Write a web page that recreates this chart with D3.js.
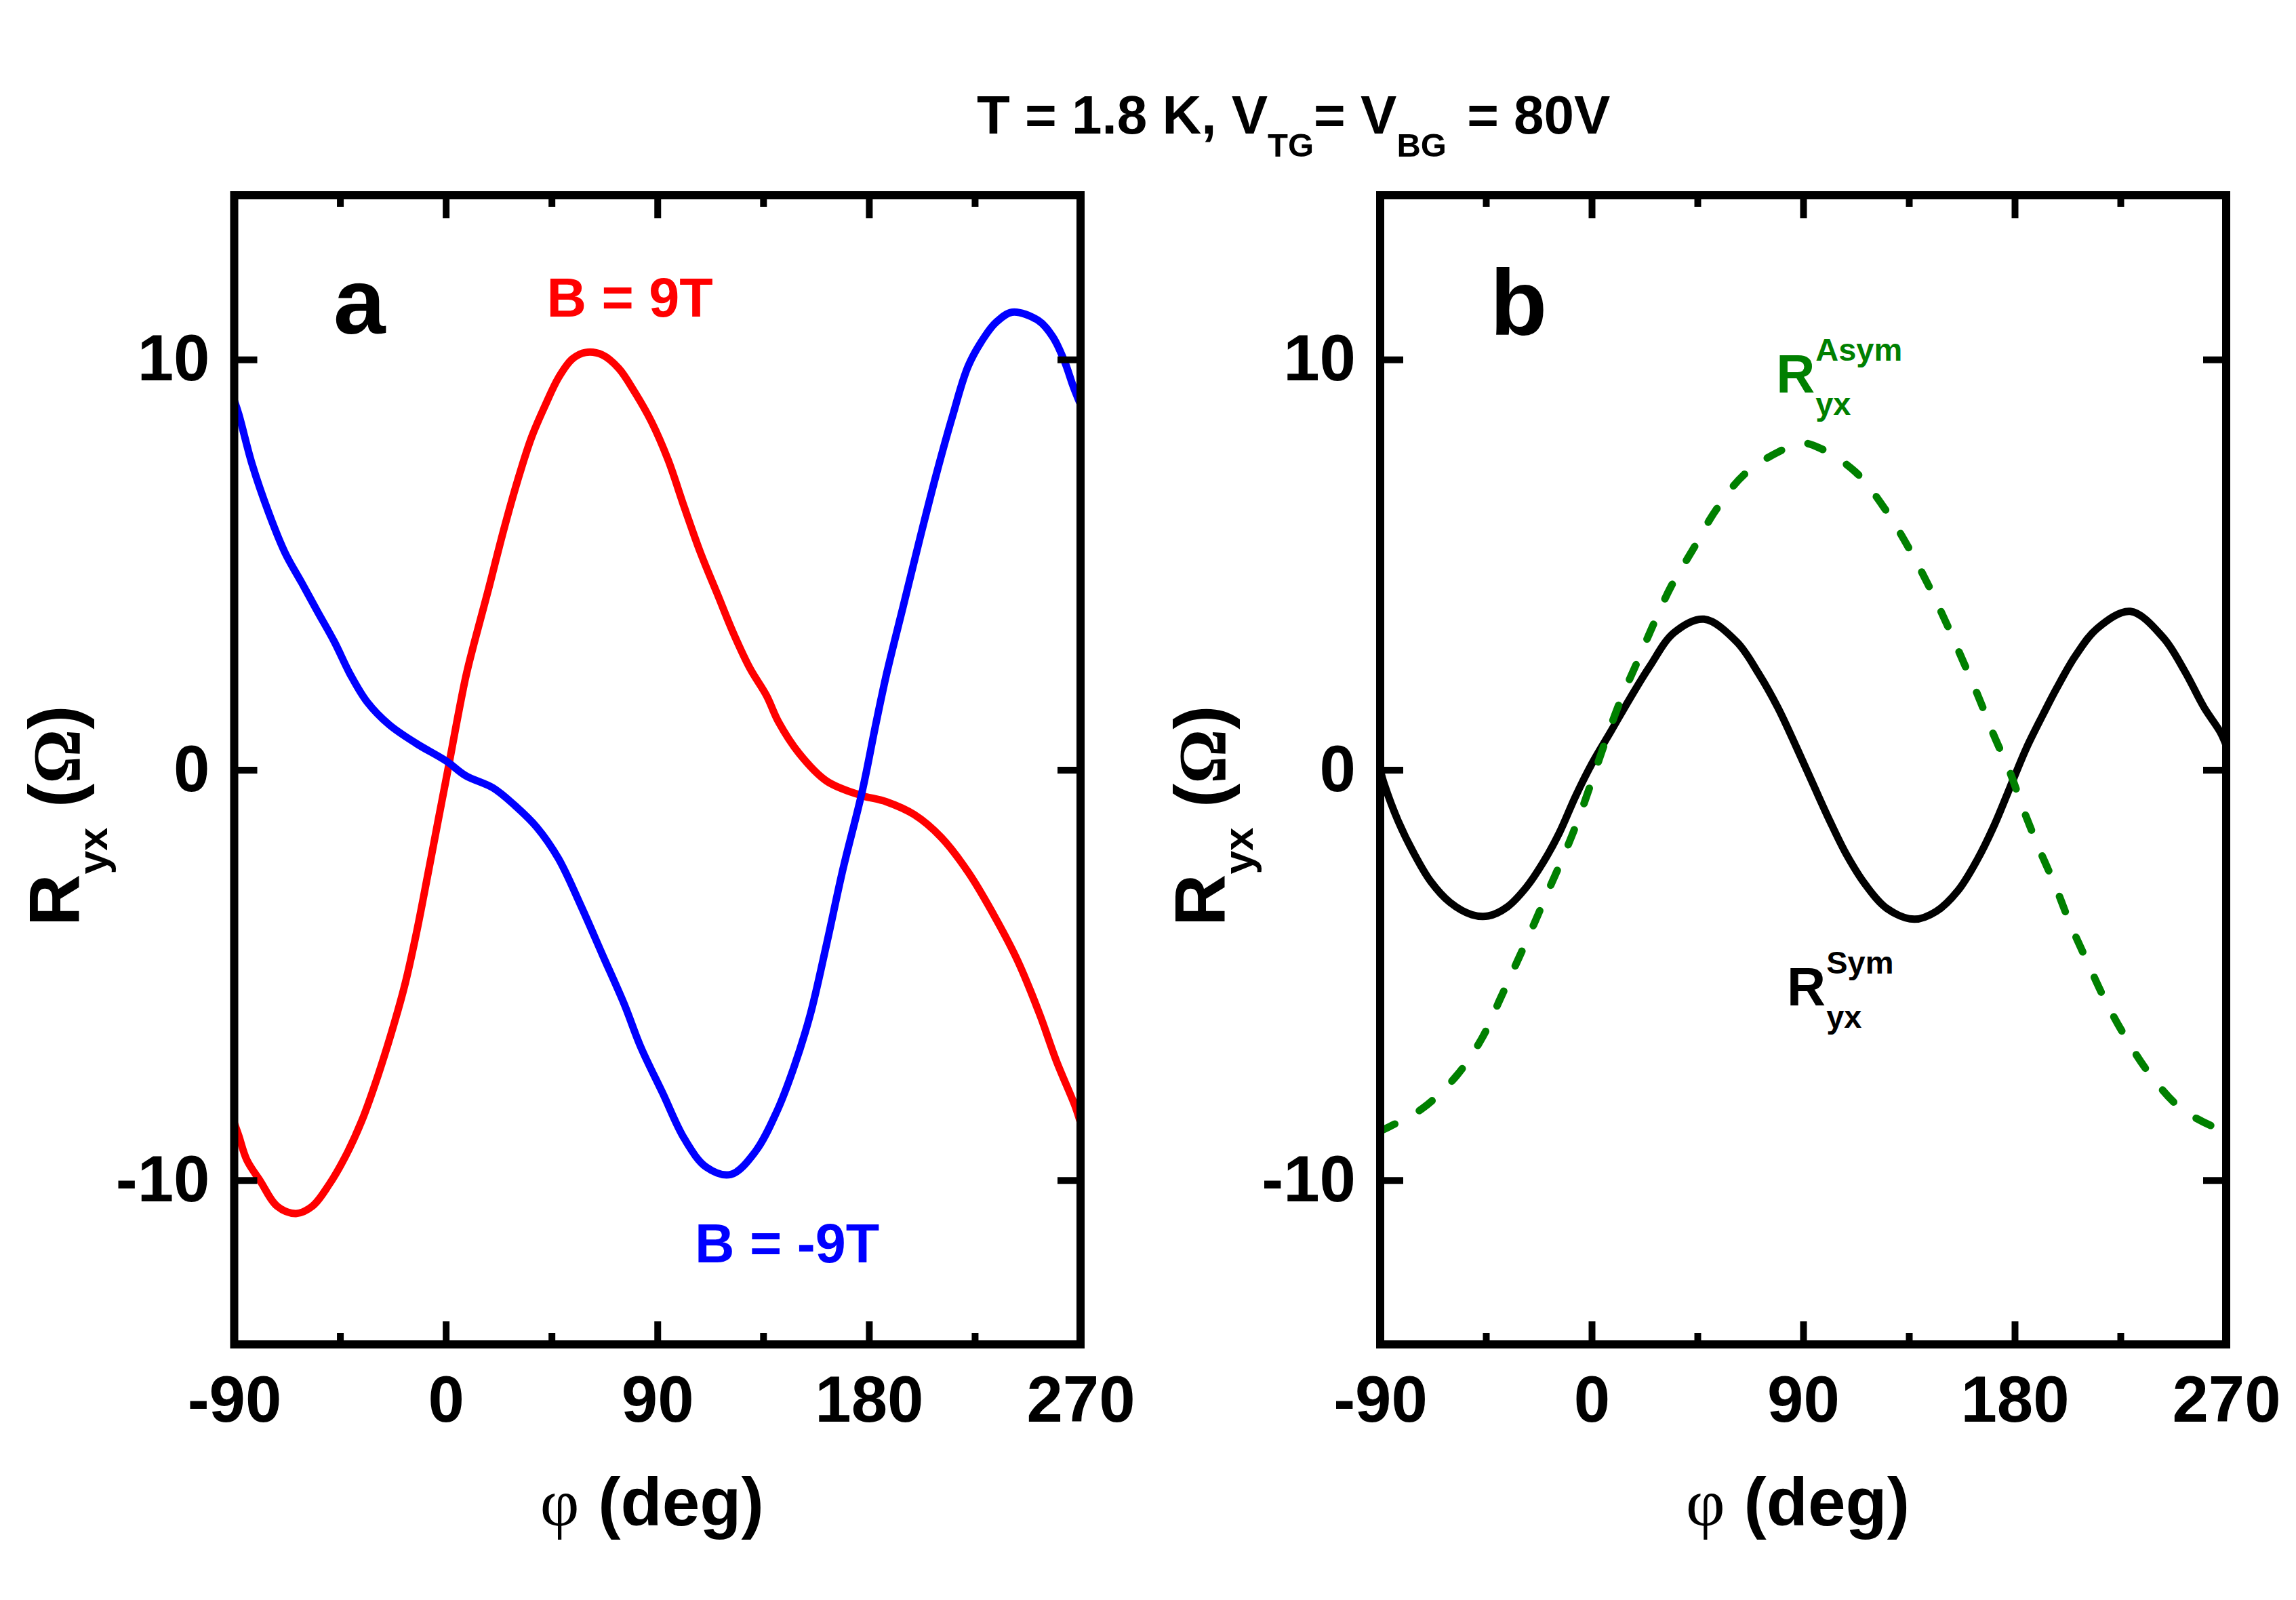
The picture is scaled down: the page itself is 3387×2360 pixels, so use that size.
<!DOCTYPE html>
<html>
<head>
<meta charset="utf-8">
<script src="https://cdn.jsdelivr.net/npm/d3@7/dist/d3.min.js"></script>
<style>
  body { margin: 0; background: #fff; }
</style>
</head>
<body>
<svg id="chart" width="3387" height="2360"></svg>
<script>
// ---- data (phi in deg, R in Ohm) ----
var redPhi = [-90, -88.1, -84.6, -78.8, -71.8, -63.7, -56.7, -49.7, -42.7, -35.8, -28.8, -21.8, -17.2, -12.5, -7.8, -3.2, 0.3, 8.4, 12.2, 17.7, 24.7, 30.5, 36.4, 42.2, 48.0, 53.8, 59.5, 66.6, 73.6, 80.5, 87.5, 94.5, 101.5, 108.4, 115.4, 122.4, 129.4, 136.4, 141.5, 150.3, 161.9, 175.9, 187.5, 199.2, 210.8, 222.4, 234.1, 243.4, 252.7, 259.7, 267.8, 270]
var redR = [-8.6, -8.91, -9.51, -10.03, -10.63, -10.81, -10.63, -10.11, -9.42, -8.56, -7.44, -6.15, -5.19, -3.98, -2.60, -1.22, -0.18, 2.24, 3.12, 4.30, 5.86, 7.04, 8.09, 8.87, 9.56, 10.01, 10.17, 10.11, 9.78, 9.19, 8.48, 7.56, 6.39, 5.28, 4.30, 3.32, 2.47, 1.81, 1.17, 0.40, -0.27, -0.61, -0.78, -1.09, -1.65, -2.51, -3.64, -4.67, -5.97, -7.09, -8.21, -8.6]

var bluePhi = [-90, -88.1, -82.3, -75.3, -68.3, -61.3, -54.4, -47.4, -40.4, -33.4, -24.1, -12.5, 0.3, 8.4, 20.1, 29.4, 38.7, 48.0, 57.3, 66.6, 75.9, 82.9, 92.2, 101.5, 110.8, 121.2, 131.7, 141.0, 148.0, 155.0, 162.0, 168.9, 177.1, 182.9, 187.5, 194.5, 201.5, 208.5, 215.5, 222.3, 229.5, 234.0, 240.9, 252.0, 258.2, 263.2, 266.9, 270]
var blueR = [9.0, 8.67, 7.43, 6.26, 5.28, 4.56, 3.84, 3.12, 2.30, 1.65, 1.10, 0.64, 0.21, -0.14, -0.44, -0.87, -1.40, -2.17, -3.29, -4.50, -5.71, -6.75, -7.87, -8.99, -9.68, -9.86, -9.30, -8.30, -7.26, -5.97, -4.24, -2.43, -0.53, 1.11, 2.34, 3.97, 5.60, 7.17, 8.61, 9.85, 10.58, 10.90, 11.15, 10.95, 10.55, 9.95, 9.34, 8.9]

var symPhi = [-90, -88.2, -82.4, -75.5, -68.5, -60.3, -51.0, -44.0, -35.9, -27.8, -20.8, -13.8, -6.9, 0.1, 8.3, 16.4, 24.6, 35.0, 47.8, 61.7, 71.0, 79.2, 87.3, 94.3, 101.3, 108.3, 116.4, 125.7, 137.3, 146.6, 155.9, 164.0, 171.0, 178.0, 185.0, 192.0, 197.8, 205.9, 215.2, 229.2, 243.1, 252.4, 260.6, 267.5, 270]
var symR = [0.0, -0.36, -1.24, -2.05, -2.72, -3.23, -3.53, -3.56, -3.34, -2.86, -2.27, -1.54, -0.65, 0.15, 0.95, 1.75, 2.51, 3.34, 3.67, 3.12, 2.35, 1.52, 0.53, -0.36, -1.24, -2.05, -2.79, -3.38, -3.64, -3.45, -2.94, -2.20, -1.39, -0.43, 0.53, 1.34, 1.98, 2.78, 3.45, 3.86, 3.23, 2.40, 1.52, 0.92, 0.6]

var asymPhi = [-90, -85.9, -72.0, -57.3, -46.4, -39.0, -32.0, -24.8, -17.8, -10.8, -4.5, 1.3, 7.1, 12.4, 19.4, 26.4, 33.8, 43.2, 52.4, 64.8, 80.3, 89.7, 97.1, 112.4, 125.0, 135.0, 143.1, 150.8, 157.8, 164.8, 171.0, 178.0, 183.8, 190.3, 197.3, 203.6, 210.6, 218.3, 226.8, 237.3, 250.8, 266.4, 270]
var asymR = [-8.8, -8.69, -8.25, -7.44, -6.51, -5.59, -4.71, -3.79, -2.86, -1.94, -1.02, -0.06, 0.90, 1.71, 2.63, 3.56, 4.47, 5.38, 6.29, 7.19, 7.77, 7.96, 7.84, 7.25, 6.34, 5.40, 4.52, 3.59, 2.68, 1.75, 0.86, -0.06, -0.98, -1.91, -2.83, -3.75, -4.64, -5.59, -6.48, -7.40, -8.25, -8.73, -8.75]

var xMajor = [-90, 0, 90, 180, 270]
var xMinor = [-45, 45, 135, 225]
var yMajor = [-10, 0, 10]

var sans = "'Liberation Sans', Arial, sans-serif"
var serif = "'Liberation Serif', 'Times New Roman', serif"

var svg = d3.select("#chart")
var top_ = 288, bottom_ = 1983

// title
var title = svg.append("text")
  .attr("x", 1441).attr("y", 197)
  .style("font-family", sans).style("font-weight", "bold").style("font-size", "80px")
title.append("tspan").text("T = 1.8 K, V")
title.append("tspan").attr("dy", 34).style("font-size", "49px").text("TG")
title.append("tspan").attr("dy", -34).text("= V")
title.append("tspan").attr("dy", 34).style("font-size", "49px").text("BG")
title.append("tspan").attr("dy", -34).attr("dx", 8).text(" = 80V")

var styleAxis = function (sel) {
  sel.select(".domain").remove()
  sel.selectAll(".tick line").attr("stroke", "#000").attr("stroke-width", 10)
  sel.selectAll(".tick text")
    .attr("fill", "#000")
    .style("font-family", sans).style("font-weight", "bold").style("font-size", "96px")
}

var drawPanel = function (left, right, series, notes) {
  var x = d3.scaleLinear().domain([-90, 270]).range([left, right])
  var y = d3.scaleLinear().domain([-14, 14]).range([bottom_, top_])
  var g = svg.append("g")

  var line = d3.line()
    .x(d => x(d[0]))
    .y(d => y(d[1]))
    .curve(d3.curveCatmullRom)

  series.forEach(s => {
    g.append("path")
      .datum(d3.zip(s.phi, s.r))
      .attr("fill", "none")
      .attr("stroke", s.color)
      .attr("stroke-width", 11)
      .attr("stroke-linejoin", "round")
      .attr("stroke-linecap", s.dash ? "round" : "butt")
      .attr("stroke-dasharray", s.dash || null)
      .attr("d", line)
  })

  // axes, ticks inward
  g.append("g").attr("transform", `translate(0,${bottom_})`)
    .call(d3.axisBottom(x).tickValues(xMajor).tickSize(-34).tickPadding(46).tickFormat(d => String(d)))
    .call(styleAxis)
  g.append("g").attr("transform", `translate(0,${bottom_})`)
    .call(d3.axisBottom(x).tickValues(xMinor).tickSize(-17).tickFormat(""))
    .call(styleAxis)
  g.append("g").attr("transform", `translate(0,${top_})`)
    .call(d3.axisTop(x).tickValues(xMajor).tickSize(-34).tickFormat(""))
    .call(styleAxis)
  g.append("g").attr("transform", `translate(0,${top_})`)
    .call(d3.axisTop(x).tickValues(xMinor).tickSize(-17).tickFormat(""))
    .call(styleAxis)
  g.append("g").attr("transform", `translate(${left},0)`)
    .call(d3.axisLeft(y).tickValues(yMajor).tickSize(-34).tickPadding(36).tickFormat(d => String(d)))
    .call(styleAxis)
  g.append("g").attr("transform", `translate(${right},0)`)
    .call(d3.axisRight(y).tickValues(yMajor).tickSize(-34).tickFormat(""))
    .call(styleAxis)

  // frame
  g.append("rect")
    .attr("x", left).attr("y", top_)
    .attr("width", right - left).attr("height", bottom_ - top_)
    .attr("fill", "none").attr("stroke", "#000").attr("stroke-width", 12)

  // axis titles
  var xt = g.append("text")
    .attr("x", (left + right) / 2 - 8).attr("y", 2250)
    .attr("text-anchor", "middle")
    .style("font-family", sans).style("font-weight", "bold").style("font-size", "100px")
  xt.append("tspan").style("font-family", serif).style("font-weight", "normal").text("φ")
  xt.append("tspan").text(" (deg)")

  var yt = g.append("text")
    .attr("transform", `translate(${left - 229},1366) rotate(-90)`)
    .style("font-family", sans).style("font-weight", "bold").style("font-size", "106px")
  yt.append("tspan").text("R")
  yt.append("tspan").attr("dy", 41).style("font-size", "62px").text("yx")
  yt.append("tspan").attr("dy", -41).text(" (")
  yt.append("tspan").style("font-family", serif).style("font-size", "100px").text("Ω")
  yt.append("tspan").text(")")

  // annotations, positioned in data units
  notes.forEach(n => {
    var t = g.append("text")
      .attr("x", x(n.phi)).attr("y", y(n.r))
      .attr("fill", n.color)
      .style("font-family", sans).style("font-weight", "bold").style("font-size", n.size + "px")
      .text(n.text)
    if (n.sup || n.sub) {
      var w = t.node().getComputedTextLength() + 1
      if (n.sup) g.append("text")
        .attr("x", x(n.phi) + w).attr("y", y(n.r) - 47)
        .attr("fill", n.color)
        .style("font-family", sans).style("font-weight", "bold").style("font-size", "47px")
        .text(n.sup)
      if (n.sub) g.append("text")
        .attr("x", x(n.phi) + w).attr("y", y(n.r) + 33)
        .attr("fill", n.color)
        .style("font-family", sans).style("font-weight", "bold").style("font-size", "47px")
        .text(n.sub)
    }
  })
}

drawPanel(345.5, 1594,
  [
    { phi: redPhi, r: redR, color: "#ff0000" },
    { phi: bluePhi, r: blueR, color: "#0000ff" }
  ],
  [
    { text: "a", phi: -47.8, r: 10.63, size: 138, color: "#000" },
    { text: "B = 9T", phi: 42.9, r: 11.05, size: 81, color: "#ff0000" },
    { text: "B = -9T", phi: 105.9, r: -12.0, size: 81, color: "#0000ff" }
  ])

drawPanel(2036, 3284,
  [
    { phi: symPhi, r: symR, color: "#000000" },
    { phi: asymPhi, r: asymR, color: "#008000", dash: "24,41" }
  ],
  [
    { text: "b", phi: -43.3, r: 10.6, size: 138, color: "#000" },
    { text: "R", phi: 78.5, r: 9.2, size: 79, color: "#008000", sup: "Asym", sub: "yx" },
    { text: "R", phi: 83.1, r: -5.74, size: 79, color: "#000", sup: "Sym", sub: "yx" }
  ])
</script>
</body>
</html>
